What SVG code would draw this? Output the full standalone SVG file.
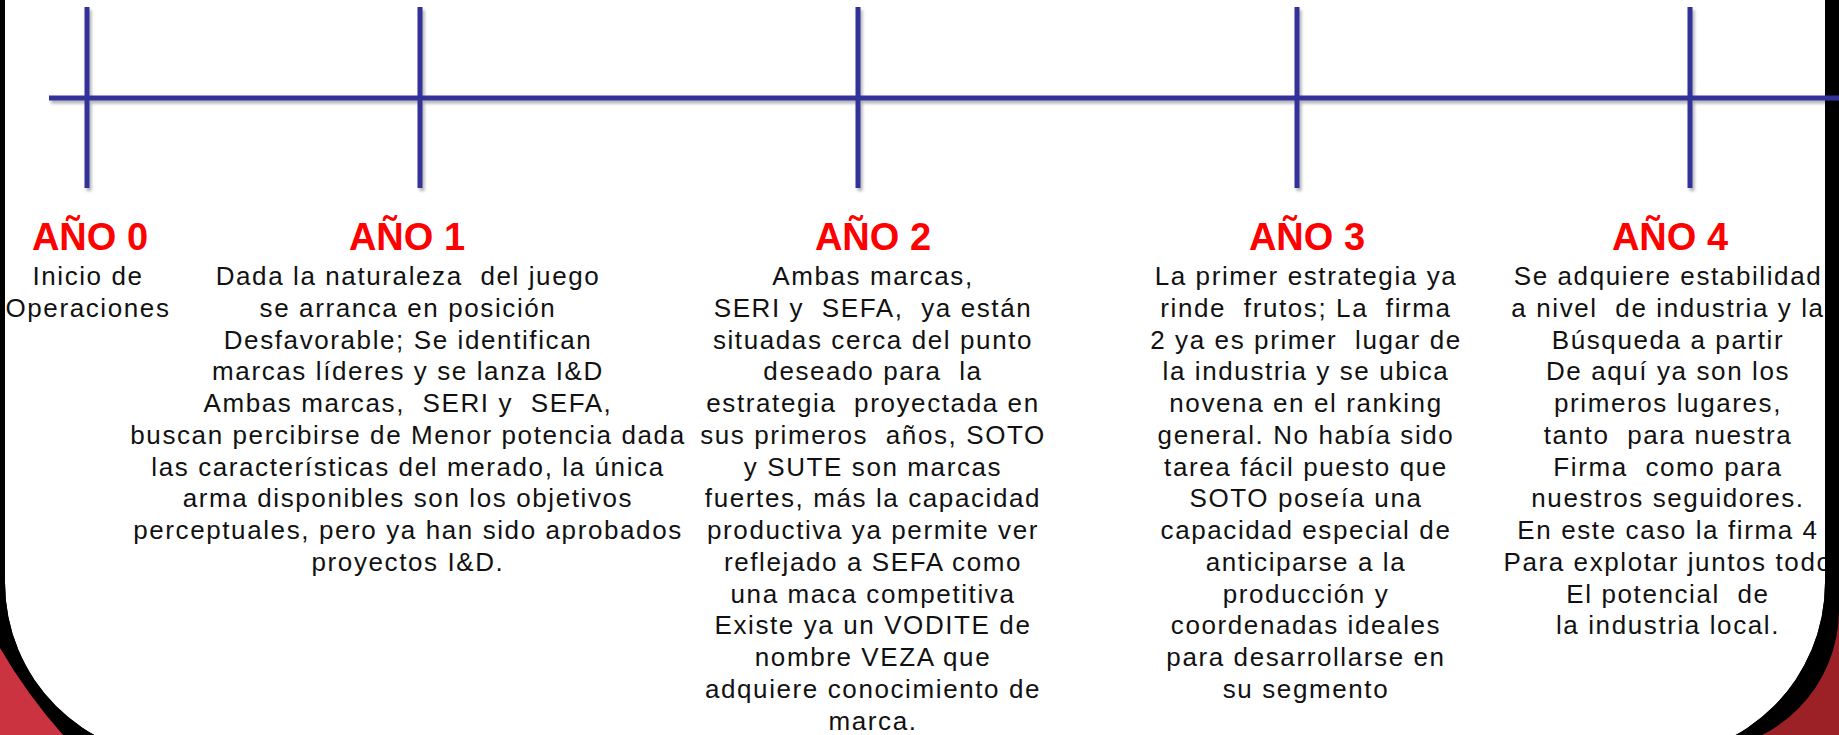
<svg xmlns="http://www.w3.org/2000/svg" width="1839" height="735" viewBox="0 0 1839 735">
<defs>
<style>
.hd{font-family:"Liberation Sans",Arial,sans-serif;font-weight:bold;font-size:38px;fill:#ff0000;text-anchor:middle}
.bd{font-family:"Liberation Sans",Arial,sans-serif;font-size:26px;fill:#111;text-anchor:middle;letter-spacing:1.6px;white-space:pre}
.tl{stroke:#333399;stroke-width:5;fill:none}
</style>
<filter id="sh" x="-5%" y="-20%" width="110%" height="150%">
<feDropShadow dx="2" dy="3" stdDeviation="1.5" flood-color="#000" flood-opacity="0.3"/>
</filter>
</defs>
<rect x="0" y="0" width="1839" height="735" fill="#000"/>
<path d="M 5 -10 H 1825 V 583 A 174 174 0 0 1 1651 757 H 179 A 174 174 0 0 1 5 583 Z" fill="#fff"/>

<g id="year0">
<text class="hd" x="90" y="250">AÑO 0</text>
<text class="bd" x="88" y="285" xml:space="preserve">Inicio de</text>
<text class="bd" x="88" y="316.75" xml:space="preserve">Operaciones</text>
</g>

<g id="year1">
<text class="hd" x="407" y="250">AÑO 1</text>
<text class="bd" x="408" y="285" xml:space="preserve">Dada la naturaleza  del juego</text>
<text class="bd" x="408" y="316.75" xml:space="preserve">se arranca en posición</text>
<text class="bd" x="408" y="348.5" xml:space="preserve">Desfavorable; Se identifican</text>
<text class="bd" x="408" y="380.25" xml:space="preserve">marcas líderes y se lanza I&amp;D</text>
<text class="bd" x="408" y="412" xml:space="preserve">Ambas marcas,  SERI y  SEFA,</text>
<text class="bd" x="408" y="443.75" xml:space="preserve">buscan percibirse de Menor potencia dada</text>
<text class="bd" x="408" y="475.5" xml:space="preserve">las características del merado, la única</text>
<text class="bd" x="408" y="507.25" xml:space="preserve">arma disponibles son los objetivos</text>
<text class="bd" x="408" y="539" xml:space="preserve">perceptuales, pero ya han sido aprobados</text>
<text class="bd" x="408" y="570.75" xml:space="preserve">proyectos I&amp;D.</text>
</g>

<g id="year2">
<text class="hd" x="873" y="250">AÑO 2</text>
<text class="bd" x="873" y="285" xml:space="preserve">Ambas marcas,</text>
<text class="bd" x="873" y="316.75" xml:space="preserve">SERI y  SEFA,  ya están</text>
<text class="bd" x="873" y="348.5" xml:space="preserve">situadas cerca del punto</text>
<text class="bd" x="873" y="380.25" xml:space="preserve">deseado para  la</text>
<text class="bd" x="873" y="412" xml:space="preserve">estrategia  proyectada en</text>
<text class="bd" x="873" y="443.75" xml:space="preserve">sus primeros  años, SOTO</text>
<text class="bd" x="873" y="475.5" xml:space="preserve">y SUTE son marcas</text>
<text class="bd" x="873" y="507.25" xml:space="preserve">fuertes, más la capacidad</text>
<text class="bd" x="873" y="539" xml:space="preserve">productiva ya permite ver</text>
<text class="bd" x="873" y="570.75" xml:space="preserve">reflejado a SEFA como</text>
<text class="bd" x="873" y="602.5" xml:space="preserve">una maca competitiva</text>
<text class="bd" x="873" y="634.25" xml:space="preserve">Existe ya un VODITE de</text>
<text class="bd" x="873" y="666" xml:space="preserve">nombre VEZA que</text>
<text class="bd" x="873" y="697.75" xml:space="preserve">adquiere conocimiento de</text>
<text class="bd" x="873" y="729.5" xml:space="preserve">marca.</text>
</g>

<g id="year3">
<text class="hd" x="1307" y="250">AÑO 3</text>
<text class="bd" x="1306" y="285" xml:space="preserve">La primer estrategia ya</text>
<text class="bd" x="1306" y="316.75" xml:space="preserve">rinde  frutos; La  firma</text>
<text class="bd" x="1306" y="348.5" xml:space="preserve">2 ya es primer  lugar de</text>
<text class="bd" x="1306" y="380.25" xml:space="preserve">la industria y se ubica</text>
<text class="bd" x="1306" y="412" xml:space="preserve">novena en el ranking</text>
<text class="bd" x="1306" y="443.75" xml:space="preserve">general. No había sido</text>
<text class="bd" x="1306" y="475.5" xml:space="preserve">tarea fácil puesto que</text>
<text class="bd" x="1306" y="507.25" xml:space="preserve">SOTO poseía una</text>
<text class="bd" x="1306" y="539" xml:space="preserve">capacidad especial de</text>
<text class="bd" x="1306" y="570.75" xml:space="preserve">anticiparse a la</text>
<text class="bd" x="1306" y="602.5" xml:space="preserve">producción y</text>
<text class="bd" x="1306" y="634.25" xml:space="preserve">coordenadas ideales</text>
<text class="bd" x="1306" y="666" xml:space="preserve">para desarrollarse en</text>
<text class="bd" x="1306" y="697.75" xml:space="preserve">su segmento</text>
</g>

<g id="year4">
<text class="hd" x="1670" y="250">AÑO 4</text>
<text class="bd" x="1668" y="285" xml:space="preserve">Se adquiere estabilidad</text>
<text class="bd" x="1668" y="316.75" xml:space="preserve">a nivel  de industria y la</text>
<text class="bd" x="1668" y="348.5" xml:space="preserve">Búsqueda a partir</text>
<text class="bd" x="1668" y="380.25" xml:space="preserve">De aquí ya son los</text>
<text class="bd" x="1668" y="412" xml:space="preserve">primeros lugares,</text>
<text class="bd" x="1668" y="443.75" xml:space="preserve">tanto  para nuestra</text>
<text class="bd" x="1668" y="475.5" xml:space="preserve">Firma  como para</text>
<text class="bd" x="1668" y="507.25" xml:space="preserve">nuestros seguidores.</text>
<text class="bd" x="1668" y="539" xml:space="preserve">En este caso la firma 4</text>
<text class="bd" x="1668" y="570.75" xml:space="preserve">Para explotar juntos todo</text>
<text class="bd" x="1668" y="602.5" xml:space="preserve">El potencial  de</text>
<text class="bd" x="1668" y="634.25" xml:space="preserve">la industria local.</text>
</g>

<g id="frame">
<path fill="#000" fill-rule="evenodd" d="M 0 0 H 1839 V 735 H 0 Z M 5 -10 H 1825 V 583 A 174 174 0 0 1 1651 757 H 179 A 174 174 0 0 1 5 583 Z"/>
<path fill="#cc3340" d="M 0 648 A 540 540 0 0 0 63 735 L 63 740 L 0 740 Z"/>
<path fill="#9c2127" d="M 1839 610 A 140 140 0 0 1 1699 750 L 1839 750 Z"/>
</g>

<g id="connectors" filter="url(#sh)">
<line class="tl" x1="49" y1="98" x2="1839" y2="98"/>
<line class="tl" x1="87" y1="7" x2="87" y2="188"/>
<line class="tl" x1="420" y1="7" x2="420" y2="188"/>
<line class="tl" x1="858" y1="7" x2="858" y2="188"/>
<line class="tl" x1="1297" y1="7" x2="1297" y2="188"/>
<line class="tl" x1="1690" y1="7" x2="1690" y2="188"/>
</g>
</svg>
